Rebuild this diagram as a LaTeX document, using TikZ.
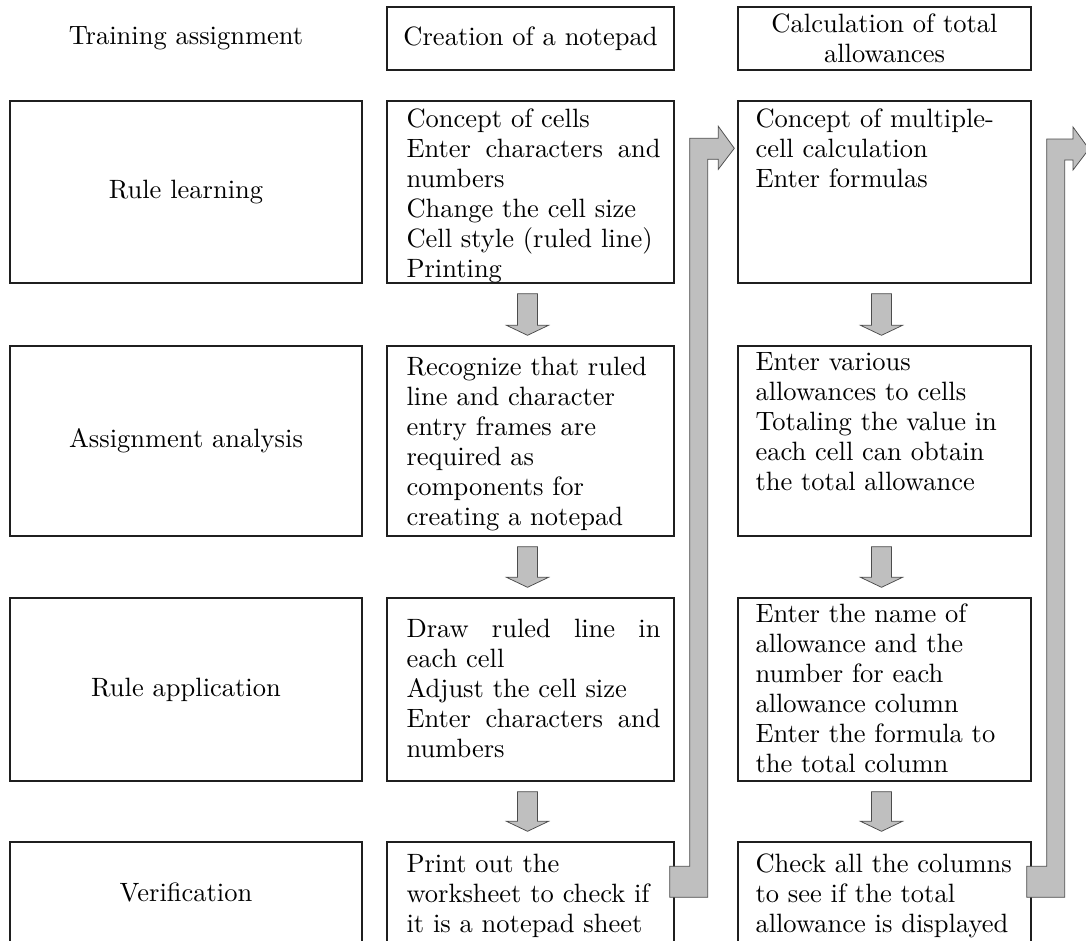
\documentclass[tikz,border=0pt]{standalone}
\usepackage{xcolor}
\usepackage{tikz}
\usetikzlibrary{calc}

% grey block arrow pointing down, from the box above to the box below
\newcommand{\dnarrow}[2]{%
  \draw[blockarrow] ($(#1.south)+(-13,10)$) -- ++(20,0) |- ($(#2.north)+(7,-20)$) -- ++(11,0)
    -- ($(#2.north)+(-3,-10)$) -- ++(-21,-10) -- ++(11,0) -- cycle;}
% grey bent arrow, leaving a bottom box and entering the top box of the next column
\newcommand{\bentarrow}[2]{%
  \draw[blockarrow] ($(#1.north east)+(-5,25)$) -- ++(20,0)
    |- ($(#2.west |- #2.north)+(-19,38)$) -- ++(0,-12) -- ++(16,22) -- ++(-16,21) -- ++(0,-10)
    -| ($(#1.north east)+(33,56)$) -- ++(-38,0) -- cycle;}
% a line spread over the full text width
\newcommand{\fullline}[1]{\makebox[101.6pt][s]{\spaceskip=0pt\xspaceskip=0pt\relax #1}}

\begin{document}
\begin{tikzpicture}[x=0.4pt, y=-0.4pt,
  every node/.style={font=\fontsize{10.6}{12}\selectfont},
  box/.style={draw=black!88, line width=0.55pt, inner sep=0pt},
  colA/.style={box, minimum width=140.8pt},
  colB/.style={box, minimum width=114.8pt},
  colC/.style={box, minimum width=117.2pt},
  txt/.style={anchor=north west, inner sep=0pt, text width=#1, align=left},
  txt/.default=101.6pt,
  blockarrow/.style={fill=black!25, draw=black!70, line width=0.3pt},
  ]
  \useasboundingbox (0,0) rectangle (1086,940);
  \clip (0,0) rectangle (1086,940);

  % headings
  \node (hA) at (186,38.5) {Training assignment};
  \node[colB, minimum height=25.2pt] (hB) at (530.5,38.5) {Creation of a notepad};
  \node[colC, minimum height=25.2pt, align=center] (hC) at (884.5,38.5) {Calculation of total\\allowances};

  % steps
  \node[colA, minimum height=72.8pt] (a1) at (186,192)   {Rule learning};
  \node[colA, minimum height=76pt]   (a2) at (186,441)   {Assignment analysis};
  \node[colA, minimum height=73.2pt] (a3) at (186,689.5) {Rule application};
  \node[colA, minimum height=40.4pt] (a4) at (186,892.5) {Verification};

  \node[colB, minimum height=72.8pt] (b1) at (530.5,192)   {};
  \node[colB, minimum height=76pt]   (b2) at (530.5,441)   {};
  \node[colB, minimum height=73.2pt] (b3) at (530.5,689.5) {};
  \node[colB, minimum height=40.4pt] (b4) at (530.5,892.5) {};

  \node[colC, minimum height=72.8pt] (c1) at (884.5,192)   {};
  \node[colC, minimum height=76pt]   (c2) at (884.5,441)   {};
  \node[colC, minimum height=73.2pt] (c3) at (884.5,689.5) {};
  \node[colC, minimum height=40.4pt] (c4) at (884.5,892.5) {};

  % notepad
  \node[txt] (tb1) at (406,106) {\strut Concept of cells\\\fullline{Enter characters and}\\numbers\\Change the cell size\\Cell style (ruled line)\\Printing};
  \node[txt] (tb2) at (406,354) {\strut Recognize that ruled\\line and character\\entry frames are\\required as\\components for\\creating a notepad};
  \node[txt] (tb3) at (406,616) {\strut\fullline{Draw ruled line in}\\each cell\\Adjust the cell size\\\fullline{Enter characters and}\\numbers};
  \node[txt] (tb4) at (406,851) {\strut Print out the\\worksheet to check if\\it is a notepad sheet};

  % allowances
  \node[txt=108pt] (tc1) at (755,106) {\strut Concept of multiple-\\cell calculation\\Enter formulas};
  \node[txt=108pt] (tc2) at (755,349) {\strut Enter various\\allowances to cells\\Totaling the value in\\each cell can obtain\\the total allowance};
  \node[txt=108pt] (tc3) at (755,601) {\strut Enter the name of\\allowance and the\\number for each\\allowance column\\Enter the formula to\\the total column};
  \node[txt=108pt] (tc4) at (755,851) {\strut Check all the columns\\to see if the total\\allowance is displayed};

  \dnarrow{b1}{b2}
  \dnarrow{b2}{b3}
  \dnarrow{b3}{b4}
  \dnarrow{c1}{c2}
  \dnarrow{c2}{c3}
  \dnarrow{c3}{c4}

  \coordinate (next) at (1092,101);
  \bentarrow{b4}{c1}
  \bentarrow{c4}{next}
\end{tikzpicture}
\end{document}
